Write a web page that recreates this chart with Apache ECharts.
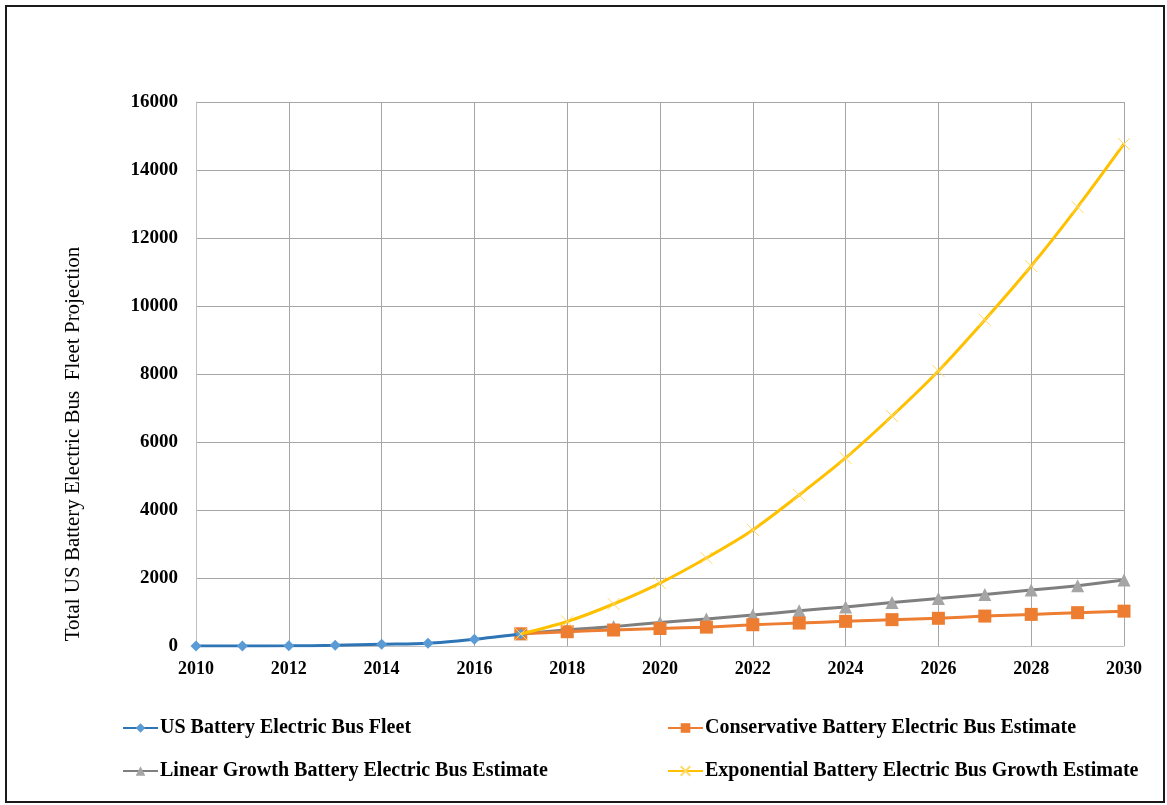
<!DOCTYPE html>
<html>
<head>
<meta charset="utf-8">
<script src="https://cdn.jsdelivr.net/npm/echarts@6/dist/echarts.min.js"></script>
<style>
  html, body { margin: 0; padding: 0; background: #fff; }
  #frame { position: absolute; left: 5px; top: 5px; width: 1160px; height: 798px; border: 2px solid #1a1a1a; box-sizing: border-box; }
  #chart { position: absolute; left: 0; top: 0; width: 1167px; height: 805px; }
</style>
</head>
<body>
<div id="frame"></div>
<div id="chart"></div>
<script>
// Years covered by the historical fleet and the projections
const fleetYears = [2010, 2011, 2012, 2013, 2014, 2015, 2016, 2017];
const projYears = [2017, 2018, 2019, 2020, 2021, 2022, 2023, 2024, 2025, 2026, 2027, 2028, 2029, 2030];

// Historical US battery electric bus fleet
const fleetValues = [0, 3, 5, 20, 50, 80, 200, 355];
// Projection scenarios
const conservativeValues = [360, 420, 470, 515, 555, 625, 675, 725, 775, 815, 880, 930, 980, 1025];
const linearValues = [360, 475, 570, 690, 795, 910, 1035, 1150, 1280, 1400, 1515, 1645, 1775, 1940];
const exponentialValues = [353, 720, 1235, 1850, 2590, 3415, 4440, 5530, 6765, 8090, 9590, 11175, 12910, 14765];

const seriesNames = [
  'US Battery Electric Bus Fleet',
  'Conservative Battery Electric Bus Estimate',
  'Linear Growth Battery Electric Bus Estimate',
  'Exponential Battery Electric Bus Growth Estimate'
];
const yTitle = 'Total US Battery Electric Bus  Fleet Projection';

const pairs = (xs, ys) => xs.map((x, i) => [x, ys[i]]);
const serif = '"Liberation Serif", "DejaVu Serif", serif';

const chart = echarts.init(document.getElementById('chart'), null, { renderer: 'canvas' });

const legendText = { color: '#000', fontFamily: serif, fontWeight: 'bold', fontSize: 20, padding: [0, 0, 0, -3] };

chart.setOption({
  animation: false,
  grid: { left: 196, right: 43, top: 102, bottom: 159, containLabel: false },
  graphic: [{
    type: 'text',
    x: 73, y: 444,
    rotation: Math.PI / 2,
    style: {
      text: yTitle,
      fill: '#000',
      font: '21px "Liberation Serif", serif',
      textAlign: 'center',
      textVerticalAlign: 'middle'
    }
  }],
  xAxis: {
    type: 'value', min: 2010, max: 2030, interval: 2,
    axisLine: { show: true, lineStyle: { color: '#bfbfbf', width: 1 } },
    axisTick: { show: false },
    axisLabel: { color: '#000', fontFamily: serif, fontWeight: 'bold', fontSize: 18, margin: 14, formatter: v => String(v) },
    splitLine: { show: true, lineStyle: { color: '#a6a6a6', width: 1 } }
  },
  yAxis: {
    type: 'value', min: 0, max: 16000, interval: 2000,
    axisLine: { show: true, lineStyle: { color: '#bfbfbf', width: 1 } },
    axisTick: { show: false },
    axisLabel: { color: '#000', fontFamily: serif, fontWeight: 'bold', fontSize: 19, margin: 18, formatter: v => String(v) },
    splitLine: { show: true, lineStyle: { color: '#a6a6a6', width: 1 } }
  },
  legend: [
    {
      data: [seriesNames[0], seriesNames[2]],
      orient: 'vertical', left: 117, top: 713, itemGap: 23,
      itemWidth: 35, itemHeight: 12,
      textStyle: legendText
    },
    {
      data: [seriesNames[1], seriesNames[3]],
      orient: 'vertical', left: 662, top: 713, itemGap: 23,
      itemWidth: 35, itemHeight: 12,
      textStyle: legendText
    }
  ],
  series: [
    {
      name: seriesNames[2], type: 'line', data: pairs(projYears, linearValues),
      smooth: 0.2, symbol: 'triangle', symbolSize: 13,
      lineStyle: { color: '#7f7f7f', width: 3 },
      itemStyle: { color: '#a5a5a5' }, z: 3
    },
    {
      name: seriesNames[1], type: 'line', data: pairs(projYears, conservativeValues),
      smooth: 0.2, symbol: 'rect', symbolSize: 13,
      lineStyle: { color: '#ed7d31', width: 3 },
      itemStyle: { color: '#ed7d31' }, z: 4
    },
    {
      name: seriesNames[0], type: 'line', data: pairs(fleetYears, fleetValues),
      smooth: 0.3, symbol: 'diamond', symbolSize: 11,
      lineStyle: { color: '#2e75b6', width: 3 },
      itemStyle: { color: '#5b9bd5' }, z: 5
    },
    {
      name: seriesNames[3], type: 'line', data: pairs(projYears, exponentialValues),
      smooth: 0.3,
      symbol: 'path://M0,0 L10,10 M10,0 L0,10', symbolSize: 12,
      lineStyle: { color: '#ffc000', width: 3 },
      itemStyle: { color: 'none', borderColor: '#ffd966', borderWidth: 1 }, z: 6
    }
  ]
});
</script>
</body>
</html>
